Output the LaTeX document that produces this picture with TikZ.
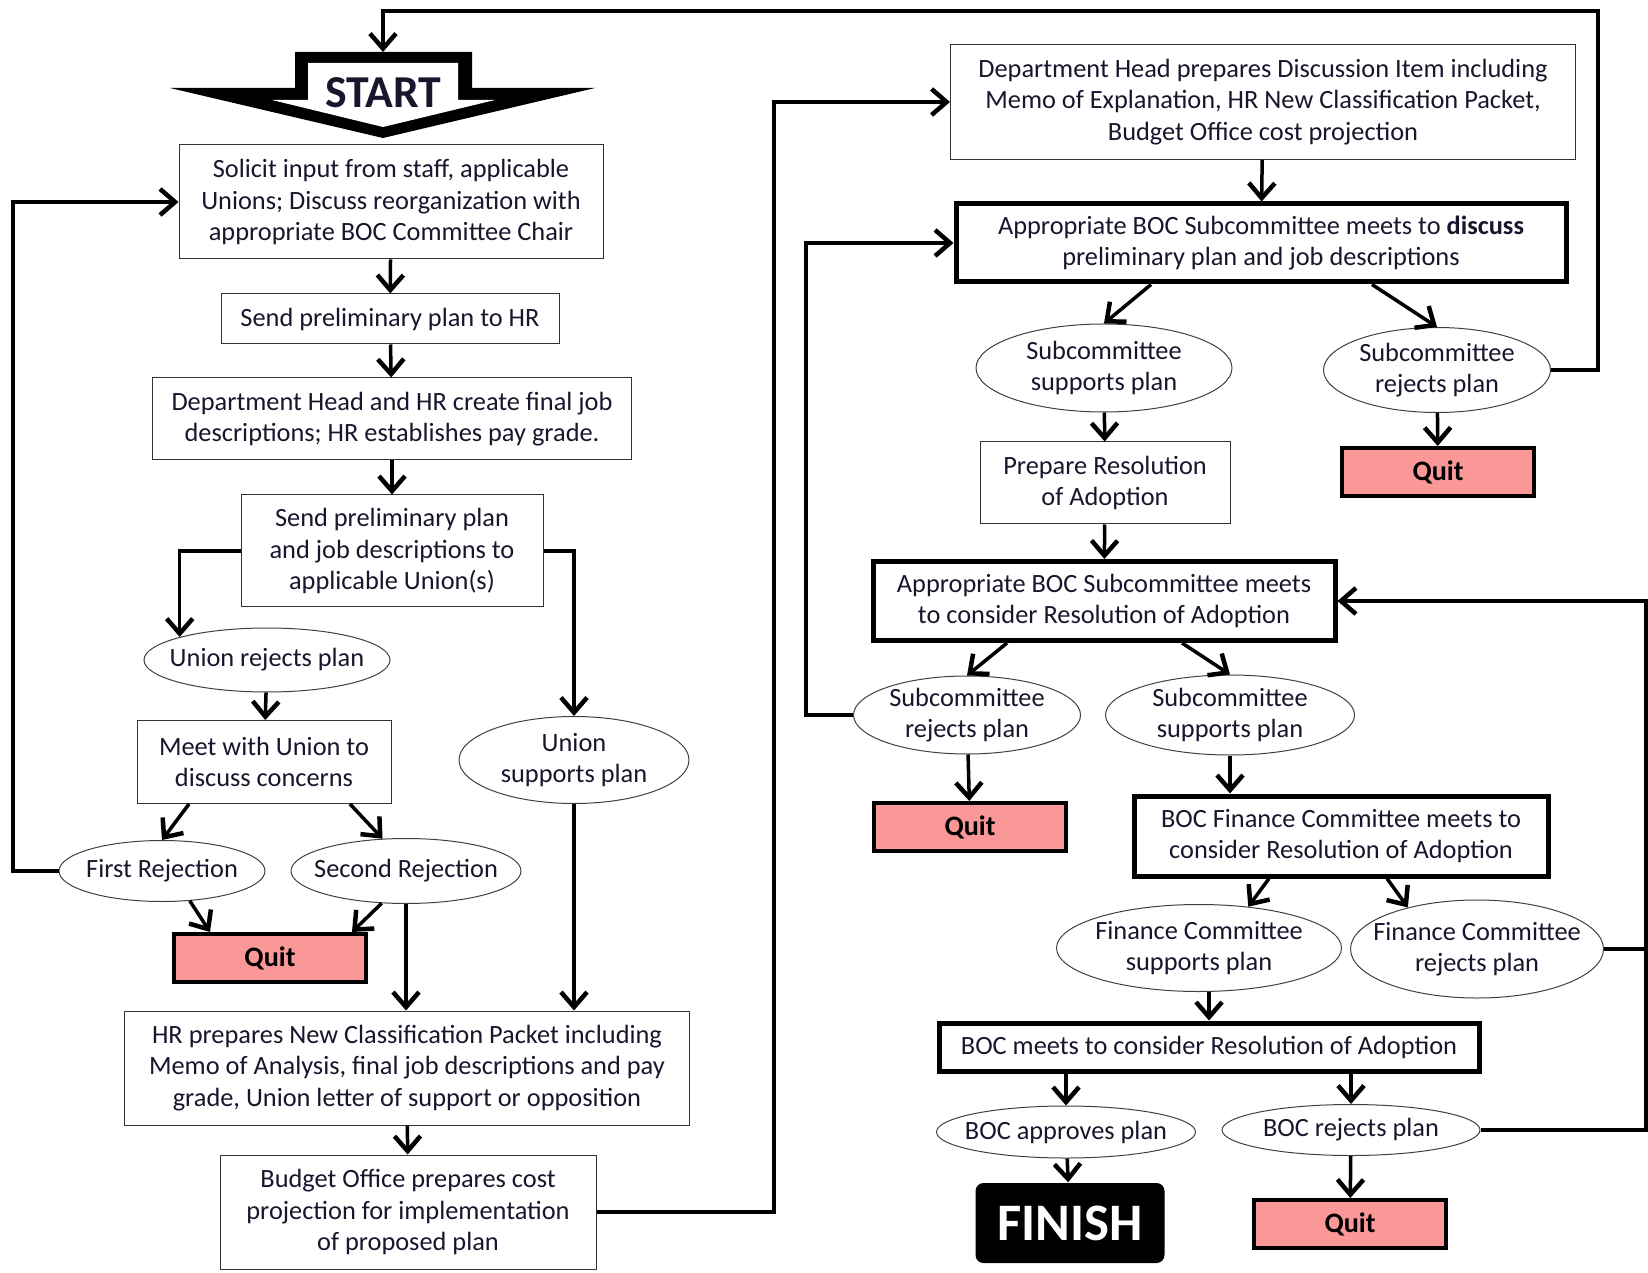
\documentclass[tikz,border=0pt]{standalone}
\usepackage{fontspec}
\setmainfont{Carlito}
\usepackage{xcolor}
\usepackage{tikz}
\usetikzlibrary{arrows.meta,positioning,calc,shapes.geometric}
\definecolor{quitpink}{RGB}{250,152,152}
\definecolor{inkdark}{RGB}{22,22,45}
\tikzset{
  box/.style={draw=black!80, line width=0.1mm, align=center, inner sep=1pt,
              text=inkdark},
  bigbox/.style={draw, line width=0.5mm, align=center, inner sep=1pt,
                 text=inkdark},
  oval/.style={ellipse, draw=black!75, line width=0.1mm, align=center,
               inner xsep=-1.5mm, inner ysep=-0.5mm, text=inkdark},
  quit/.style={draw, line width=0.4mm, fill=quitpink, font=\fontsize{8}{9}\selectfont\bfseries,
               minimum width=19.2mm, minimum height=4.8mm},
  finish/.style={fill=black, rounded corners=0.8mm, text=white,
                 font=\fontsize{15}{16}\selectfont\bfseries,
                 minimum width=18.9mm, minimum height=8mm},
  link/.style={-{Straight Barb[length=1.5mm,width=2.6mm,line width=0.45mm]}, line width=0.35mm},
  plain/.style={line width=0.35mm}
}
\begin{document}
\begin{tikzpicture}[x=0.1mm,y=-0.1mm,every node/.append style={font=\fontsize{7.5}{9}\selectfont}]
  \useasboundingbox (0,0) rectangle (1648,1273);

  % start marker
  \fill (295,52) -- (472,52) -- (472,88) -- (595,88) -- (383,138) -- (170,88) -- (295,88) -- cycle;
  \fill[white] (308,63) -- (458,63) -- (458,100) -- (495,100) -- (383,127) -- (272,100) -- (308,100) -- cycle;
  \node[font=\fontsize{13}{14}\selectfont\bfseries, text=inkdark] (start) at (383,93) {START};
  \coordinate (starttop) at (383,52);

  % left column
  \node[box, minimum width=42.4mm, minimum height=11.4mm] (solicit) at (391,202)
    {Solicit input from staff, applicable\\Unions; Discuss reorganization with\\appropriate BOC Committee Chair};
  \node[box, minimum width=33.8mm, minimum height=5mm] (sendhr) at (390,319) {Send preliminary plan to HR};
  \node[box, minimum width=47.9mm, minimum height=8.2mm] (jobdesc) at (392,419)
    {Department Head and HR create final job\\descriptions; HR establishes pay grade.};
  \node[box, minimum width=30.2mm, minimum height=11.2mm] (sendunion) at (392,551)
    {Send preliminary plan\\and job descriptions to\\applicable Union(s)};
  \node[oval, minimum width=24.6mm, minimum height=6.4mm] (unionrej) at (267,660) {Union rejects plan};
  \node[box, minimum width=25.4mm, minimum height=8.3mm] (meetunion) at (264,762)
    {Meet with Union to\\discuss concerns};
  \node[oval, minimum width=23mm, minimum height=8.7mm] (unionsup) at (574,760) {Union\\supports plan};
  \node[oval, minimum width=20.6mm, minimum height=6.1mm] (firstrej) at (162,871) {First Rejection};
  \node[oval, minimum width=23mm, minimum height=6.5mm] (secondrej) at (406,871) {Second Rejection};
  \node[quit] (quitA) at (270,958) {Quit};
  \node[box, minimum width=56.5mm, minimum height=11.4mm] (hrpacket) at (407,1068)
    {HR prepares New Classification Packet including\\Memo of Analysis, final job descriptions and pay\\grade, Union letter of support or opposition};
  \node[box, minimum width=37.6mm, minimum height=11.4mm] (budget) at (408,1212)
    {Budget Office prepares cost\\projection for implementation\\of proposed plan};

  % right column
  \node[box, minimum width=62.5mm, minimum height=11.5mm] (discitem) at (1263,102)
    {Department Head prepares Discussion Item including\\Memo of Explanation, HR New Classification Packet,\\Budget Office cost projection};
  \node[bigbox, minimum width=61mm, minimum height=7.8mm] (subdiscuss) at (1261,243)
    {Appropriate BOC Subcommittee meets to \textbf{discuss}\\preliminary plan and job descriptions};
  \node[oval, minimum width=25.6mm, minimum height=8.8mm] (subsupA) at (1104,368) {Subcommittee\\supports plan};
  \node[oval, minimum width=22.7mm, minimum height=8.5mm] (subrejA) at (1437,370) {Subcommittee\\rejects plan};
  \node[quit] (quitB) at (1438,472) {Quit};
  \node[box, minimum width=25mm, minimum height=8.2mm] (resolution) at (1105,483)
    {Prepare Resolution\\of Adoption};
  \node[bigbox, minimum width=46.2mm, minimum height=7.9mm] (subconsider) at (1104,601)
    {Appropriate BOC Subcommittee meets\\to consider Resolution of Adoption};
  \node[oval, minimum width=22.7mm, minimum height=7.8mm] (subrejB) at (967,715) {Subcommittee\\rejects plan};
  \node[oval, minimum width=24.9mm, minimum height=8mm] (subsupB) at (1230,715) {Subcommittee\\supports plan};
  \node[quit] (quitC) at (970,827) {Quit};
  \node[bigbox, minimum width=41.4mm, minimum height=8mm] (finance) at (1341,836)
    {BOC Finance Committee meets to\\consider Resolution of Adoption};
  \node[oval, minimum width=28.5mm, minimum height=8.7mm] (finsup) at (1199,948) {Finance Committee\\supports plan};
  \node[oval, minimum width=25.3mm, minimum height=9.8mm] (finrej) at (1477,949) {Finance Committee\\rejects plan};
  \node[bigbox, minimum width=54mm, minimum height=4.8mm] (bocmeets) at (1209,1047)
    {BOC meets to consider Resolution of Adoption};
  \node[oval, minimum width=25.9mm, minimum height=5.2mm] (bocapp) at (1066,1132) {BOC approves plan};
  \node[oval, minimum width=25.8mm, minimum height=5.1mm] (bocrej) at (1351,1130) {BOC rejects plan};
  \node[finish] (finish) at (1070,1223) {FINISH};
  \node[quit] (quitD) at (1350,1224) {Quit};

  % bend points
  \coordinate (loopA) at (13,202);
  \coordinate (busA) at (774,102);
  \coordinate (loopR) at (1598,11);
  \coordinate (loopB) at (806,243);
  \coordinate (loopC) at (1646,601);

  % left connectors
  \draw[link] (solicit) -- (sendhr);
  \draw[link] (sendhr) -- (jobdesc);
  \draw[link] (jobdesc) -- (sendunion);
  \draw[link] (sendunion.west) -| (unionrej.north west);
  \draw[link] (sendunion.east) -| (unionsup.north);
  \draw[link] (unionrej) -- (meetunion);
  \draw[link] ([xshift=-7.5mm]meetunion.south) -- (firstrej.north);
  \draw[link] ([xshift=8.6mm]meetunion.south) -- (secondrej.126);
  \draw[link] (firstrej.west) -| (loopA) -- (solicit.west);
  \draw[link] (firstrej.-47) -- ([xshift=-6mm]quitA.north);
  \draw[link] (secondrej.-127) -- ([xshift=8.2mm]quitA.north);
  \draw[link] (secondrej.south) -- (secondrej.south |- hrpacket.north);
  \draw[link] (unionsup.south) -- (unionsup.south |- hrpacket.north);
  \draw[link] (hrpacket) -- (budget);
  \draw[link] (budget.east) -| (busA) -- (discitem.west);

  % right connectors
  \draw[link] (discitem) -- (subdiscuss);
  \draw[link] ([xshift=-11mm]subdiscuss.south) -- (subsupA.north);
  \draw[link] ([xshift=11.1mm]subdiscuss.south) -- (subrejA.north);
  \draw[link] (subrejA.east) -| (loopR) -| (starttop);
  \draw[link] (subsupA) -- (resolution);
  \draw[link] (subrejA) -- (quitB);
  \draw[link] (resolution) -- (subconsider);
  \draw[link] ([xshift=-9.7mm]subconsider.south) -- (subrejB.north);
  \draw[link] ([xshift=7.8mm]subconsider.south) -- (subsupB.north);
  \draw[link] (subrejB.west) -| (loopB) -- (subdiscuss.west);
  \draw[link] (subrejB) -- (quitC);
  \draw[link] (subsupB.south) -- (subsupB.south |- finance.north);
  \draw[link] ([xshift=-7.2mm]finance.south) -- (finsup.40);
  \draw[link] ([xshift=4.6mm]finance.south) -- (finrej.149);
  \draw[plain] (finrej.east) -- (finrej.east -| loopC);
  \draw[link] (bocrej.east) -| (loopC) -- (subconsider.east);
  \draw[link] (bocmeets.north |- finsup.south) -- (bocmeets.north);
  \draw[link] (bocapp.north |- bocmeets.south) -- (bocapp.north);
  \draw[link] (bocrej.north |- bocmeets.south) -- (bocrej.north);
  \draw[link] (bocapp) -- (finish);
  \draw[link] (bocrej) -- (quitD);
\end{tikzpicture}
\end{document}
